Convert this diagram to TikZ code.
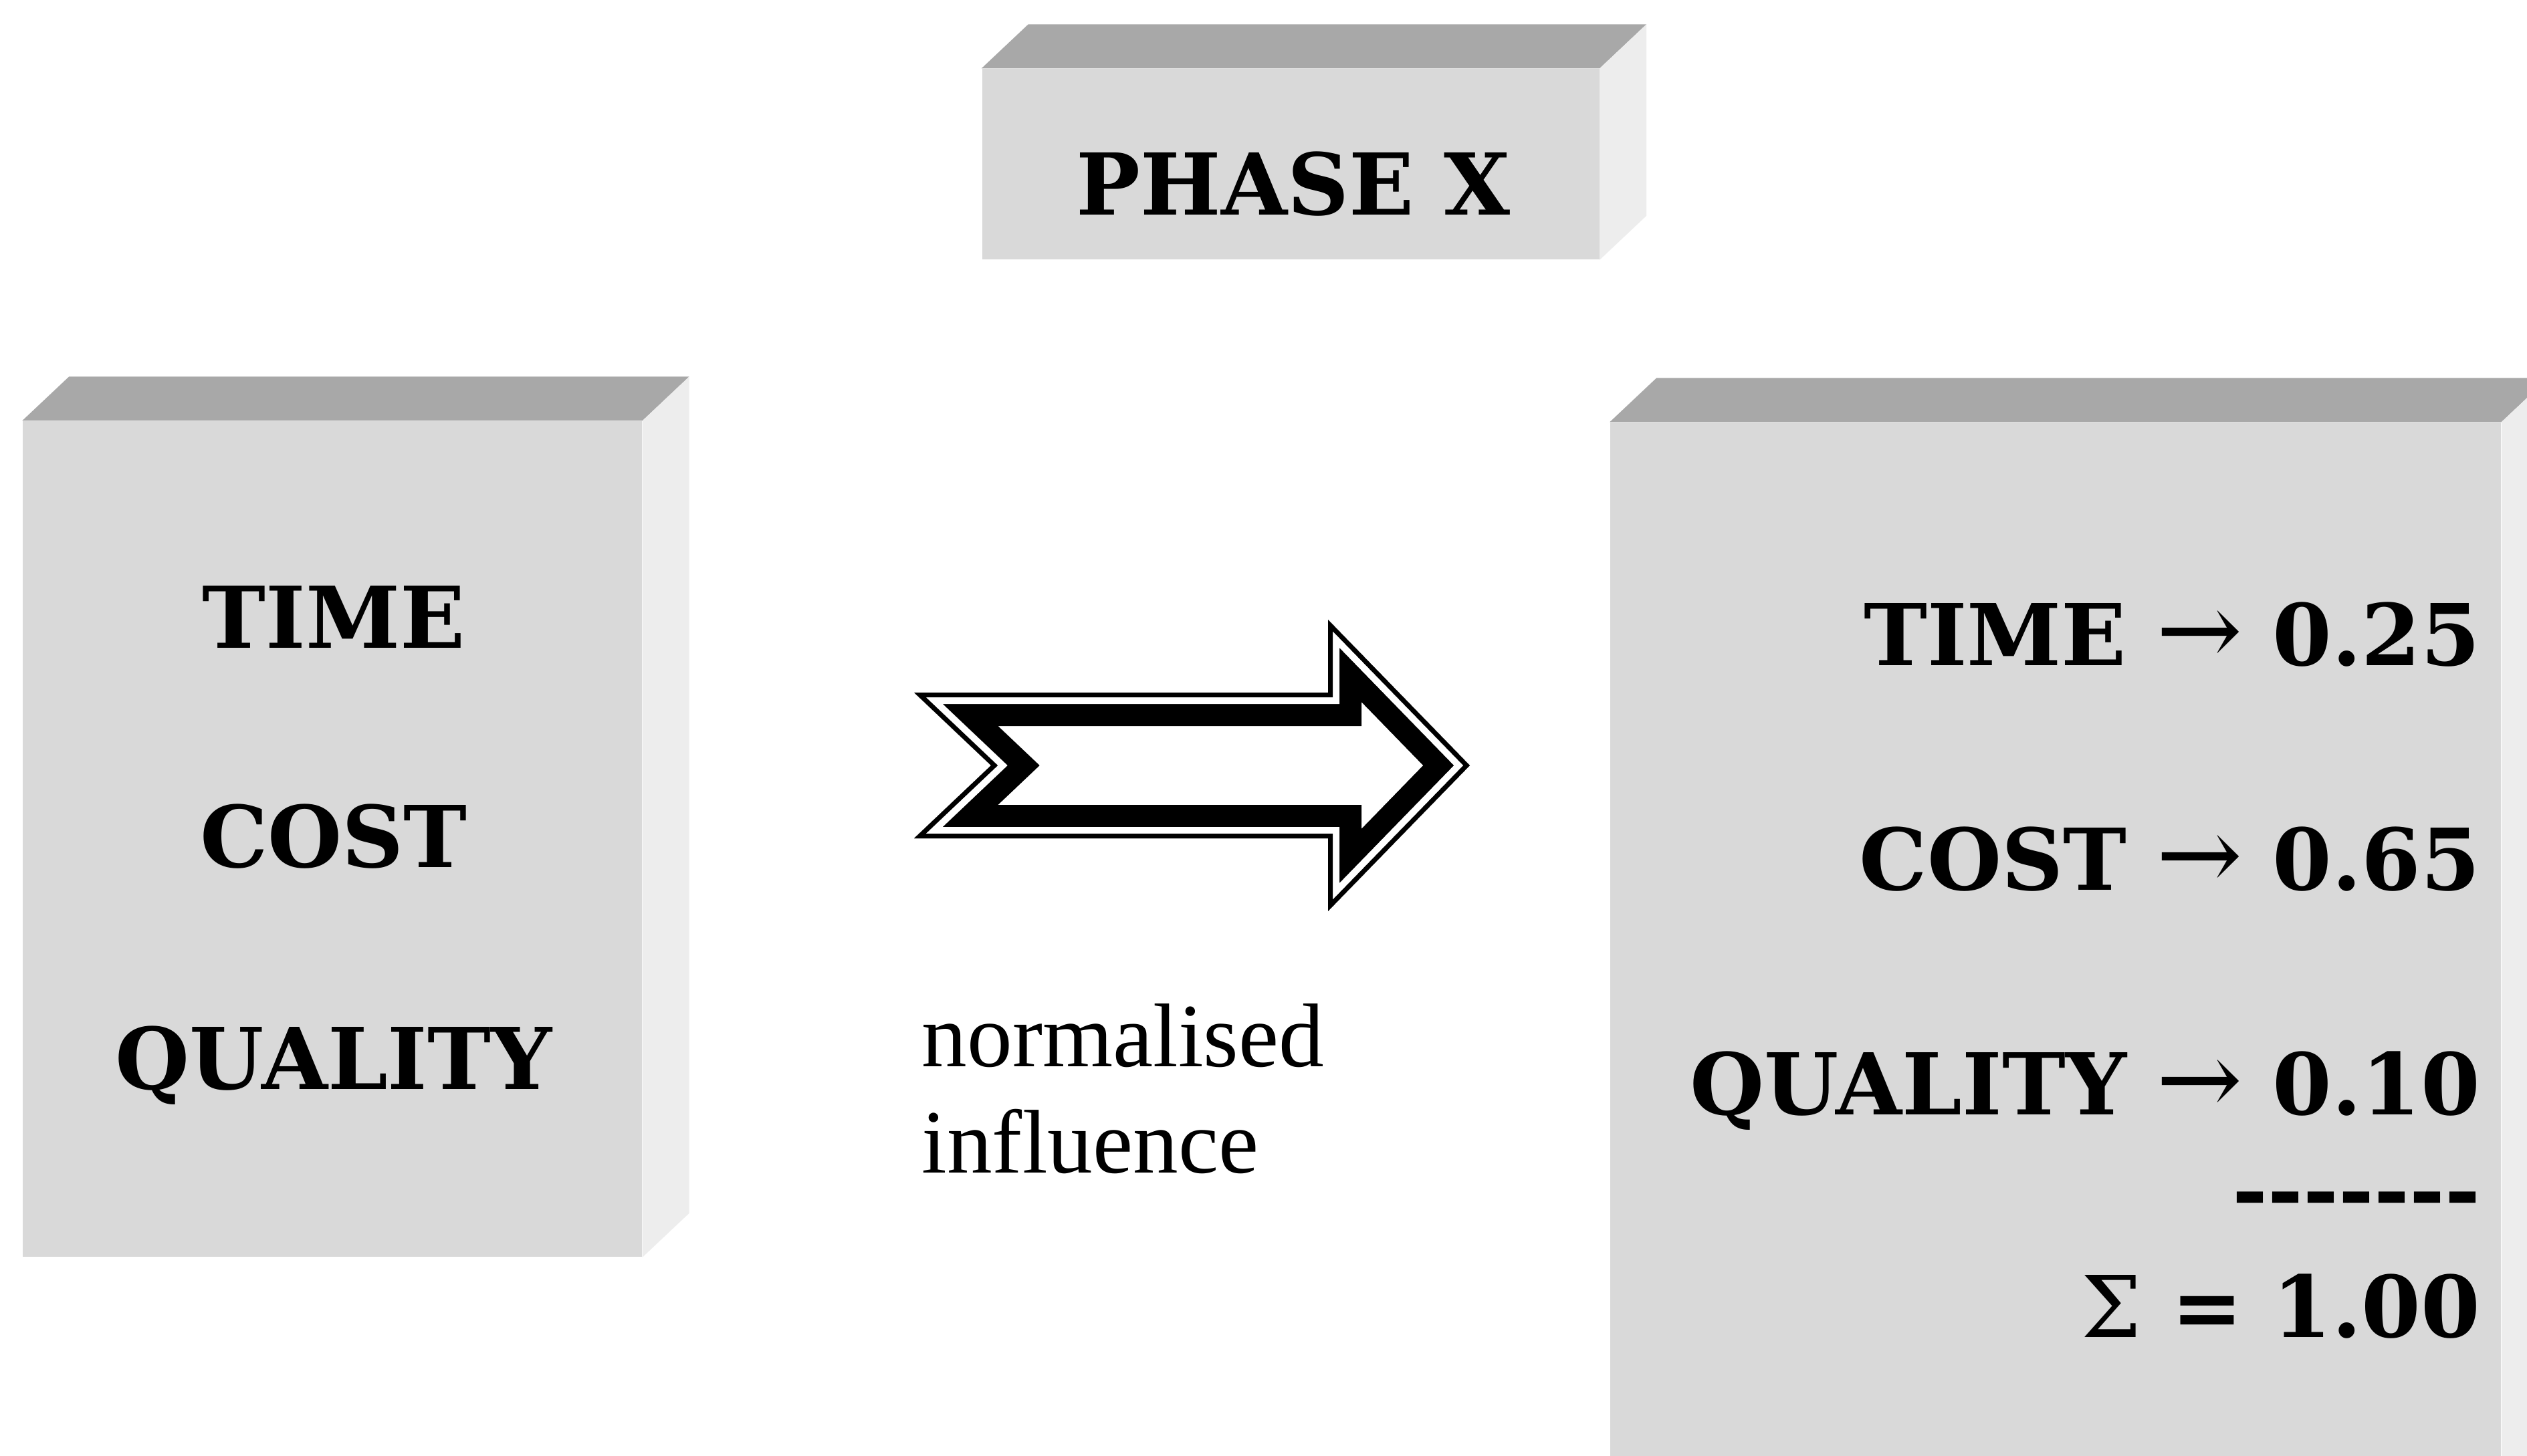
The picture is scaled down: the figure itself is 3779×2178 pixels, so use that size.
\documentclass[tikz,border=0pt]{standalone}
\usepackage{fontspec}
\usepackage{tikz}
\usetikzlibrary{positioning}
\newfontfamily\timesfont{Liberation Serif}
\newfontfamily\blockfont{DejaVu Serif}
\newcommand{\schola}{\blockfont\bfseries\fontsize{36.3pt}{44pt}\selectfont}
\newcommand{\goesto}{{\mdseries\fontsize{44pt}{44pt}\selectfont →}}
\definecolor{frontgray}{gray}{0.85}
\definecolor{topgray}{gray}{0.66}
\definecolor{sidegray}{gray}{0.93}
\def\arrowshape{(1367,1036) -- (1986,1036) -- (1986,927) -- (2198,1145) -- (1986,1363) -- (1986,1254) -- (1367,1254) -- (1482,1145) -- cycle}

\begin{document}
\begin{tikzpicture}[x=0.1mm, y=-0.1mm,
    face/.style={fill=frontgray, inner sep=0pt},
    word/.style={font=\schola, inner sep=0pt},
    infl/.style={font=\timesfont\fontsize{38.5pt}{46pt}\selectfont, inner sep=0pt}]
            \useasboundingbox (0,0) rectangle (3779,2178);
            \clip (0,0) rectangle (3779,2178);
            \fill[white] (0,0) rectangle (3779,2178);

            % the three blocks
            \node[face, minimum width=92.6mm, minimum height=125mm] (leftbox) at (497,1255) {};
            \node[face, minimum width=92.3mm, minimum height=28.5mm] (phasebox) at (1930,245.5) {};
            \node[face, minimum width=133.2mm, minimum height=166.8mm] (rightbox) at (3074,1466) {};

            \fill[topgray] (leftbox.north west) -- ([shift={(70,-66)}]leftbox.north west) -- ([shift={(70,-66)}]leftbox.north east) -- (leftbox.north east) -- cycle;
            \fill[sidegray] (leftbox.north east) -- ([shift={(70,-66)}]leftbox.north east) -- ([shift={(70,-66)}]leftbox.south east) -- (leftbox.south east) -- cycle;
            \fill[topgray] (phasebox.north west) -- ([shift={(70,-66)}]phasebox.north west) -- ([shift={(70,-66)}]phasebox.north east) -- (phasebox.north east) -- cycle;
            \fill[sidegray] (phasebox.north east) -- ([shift={(70,-66)}]phasebox.north east) -- ([shift={(70,-66)}]phasebox.south east) -- (phasebox.south east) -- cycle;
            \fill[topgray] (rightbox.north west) -- ([shift={(70,-66)}]rightbox.north west) -- ([shift={(70,-66)}]rightbox.north east) -- (rightbox.north east) -- cycle;
            \fill[sidegray] (rightbox.north east) -- ([shift={(70,-66)}]rightbox.north east) -- ([shift={(70,-66)}]rightbox.south east) -- (rightbox.south east) -- cycle;

            \node[word, anchor=base] (phase) at (1934,322) {PHASE X};

            \node[word, anchor=base] (ltime) at (499,969) {TIME};
            \node[word, anchor=base] (lcost) at (499,1297) {COST};
            \node[word, anchor=base] (lqual) at (499,1629) {QUALITY};

            \node[word, anchor=base east] (rtime) at (3710,995) {TIME \goesto{} 0.25};
            \node[word, anchor=base east] (rcost) at (3710,1331) {COST \goesto{} 0.65};
            \node[word, anchor=base east] (rqual) at (3710,1667) {QUALITY \goesto{} 0.10};
            \node[word, anchor=base east] (rdash) at (3710,1825) {-{}-{}-{}-{}-{}-{}-};
            \node[word, anchor=base east] (rsum) at (3710,2000) {{\mdseries Σ} = 1.00};

            % hollow block arrow
            \begin{scope}
                \clip \arrowshape;
                \fill[white] \arrowshape;
                \draw[line width=10mm, miter limit=20] \arrowshape;
                \draw[white, line width=3.4mm, miter limit=20] \arrowshape;
                \draw[line width=1.4mm, miter limit=20] \arrowshape;
            \end{scope}

            \node[infl, anchor=base west] (normtxt) at (1378,1595) {normalised};
            \node[infl, anchor=base west] (infltxt) at (1378,1754) {influence};
        \end{tikzpicture}
\end{document}
